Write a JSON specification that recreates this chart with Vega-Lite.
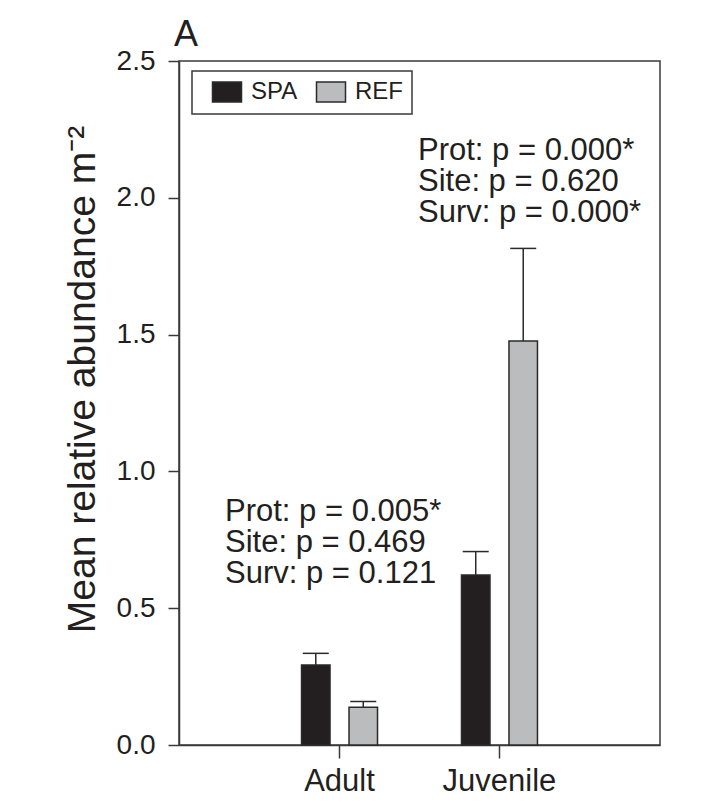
{
  "$schema": "https://vega.github.io/schema/vega-lite/v6.json",
  "width": 481,
  "height": 684,
  "autosize": "none",
  "padding": {"left": 179, "top": 61, "right": 49, "bottom": 62},
  "background": "white",
  "title": {"text": "A", "anchor": "start", "frame": "group", "fontSize": 36, "font": "Liberation Sans", "fontWeight": "normal", "color": "#231f20", "dx": -5, "dy": 35, "offset": 0, "baseline": "alphabetic"},
  "config": {
    "font": "Liberation Sans",
    "view": {"stroke": "#3a3a3a", "strokeWidth": 1.5},
    "axis": {"grid": false, "domainColor": "#3a3a3a", "domainWidth": 1.5, "tickColor": "#3a3a3a", "tickWidth": 1.5, "labelColor": "#231f20", "titleColor": "#231f20", "labelFont": "Liberation Sans", "titleFont": "Liberation Sans", "titleFontWeight": "normal"},
    "legend": {"strokeColor": "#3a3a3a", "strokeWidth": 1.5}
  },
  "datasets": {
    "bars": [
      {"group": "Adult", "site": "SPA", "mean": 0.292, "upper": 0.335},
      {"group": "Adult", "site": "REF", "mean": 0.138, "upper": 0.159},
      {"group": "Juvenile", "site": "SPA", "mean": 0.621, "upper": 0.707},
      {"group": "Juvenile", "site": "REF", "mean": 1.477, "upper": 1.815}
    ],
    "notesAdult": [
      {"group": "Adult", "y": 0.82, "label": "Prot: p = 0.005*\nSite: p = 0.469\nSurv: p = 0.121"}
    ],
    "notesJuv": [
      {"group": "Juvenile", "y": 2.138, "label": "Prot: p = 0.000*\nSite: p = 0.620\nSurv: p = 0.000*"}
    ]
  },
  "layer": [
    {
      "data": {"name": "bars"},
      "mark": {"type": "bar", "stroke": "#2a2a2a", "strokeWidth": 1.5},
      "encoding": {
        "x": {"field": "group", "type": "nominal", "sort": ["Adult", "Juvenile"],
              "scale": {"paddingInner": 0.525, "paddingOuter": 0.766},
              "axis": {"title": null, "labelAngle": 0, "labelFontSize": 31, "tickSize": 13, "labelPadding": 8}},
        "xOffset": {"field": "site", "type": "nominal", "sort": ["SPA", "REF"], "scale": {"paddingInner": 0.4, "paddingOuter": 0}},
        "y": {"field": "mean", "type": "quantitative", "scale": {"domain": [0, 2.5], "nice": false},
              "axis": {"title": "Mean relative abundance m\u207b\u00b2", "titleFontSize": 39, "titlePadding": 14, "titleY": 318, "labelFontSize": 28, "tickSize": 11, "labelPadding": 13, "values": [0, 0.5, 1, 1.5, 2, 2.5], "format": ".1f"}},
        "color": {"field": "site", "type": "nominal", "sort": ["SPA", "REF"],
                  "scale": {"domain": ["SPA", "REF"], "range": ["#231f20", "#bbbcbe"]},
                  "legend": {"title": null, "orient": "none", "legendX": 13, "legendY": 10, "direction": "horizontal", "padding": 9, "symbolType": "M-1.45,-1H1.45V1H-1.45Z", "symbolSize": 400, "symbolStrokeColor": "#2a2a2a", "symbolStrokeWidth": 1.5, "symbolOffset": 14, "labelFontSize": 24, "labelColor": "#231f20", "labelOffset": 12, "columnPadding": 7}}
      }
    },
    {
      "data": {"name": "bars"},
      "mark": {"type": "rule", "color": "#2a2a2a", "strokeWidth": 1.5},
      "encoding": {
        "x": {"field": "group", "type": "nominal", "sort": ["Adult", "Juvenile"]},
        "xOffset": {"field": "site", "type": "nominal", "sort": ["SPA", "REF"]},
        "y": {"field": "mean", "type": "quantitative"},
        "y2": {"field": "upper"}
      }
    },
    {
      "data": {"name": "bars"},
      "mark": {"type": "tick", "color": "#2a2a2a", "thickness": 1.5, "size": 26, "opacity": 1},
      "encoding": {
        "x": {"field": "group", "type": "nominal", "sort": ["Adult", "Juvenile"]},
        "xOffset": {"field": "site", "type": "nominal", "sort": ["SPA", "REF"]},
        "y": {"field": "upper", "type": "quantitative"}
      }
    },
    {
      "data": {"name": "notesAdult"},
      "mark": {"type": "text", "align": "left", "baseline": "alphabetic", "fontSize": 31, "lineHeight": 31, "lineBreak": "\n", "color": "#231f20", "dx": -114.5},
      "encoding": {
        "x": {"field": "group", "type": "nominal", "sort": ["Adult", "Juvenile"]},
        "y": {"field": "y", "type": "quantitative"},
        "text": {"field": "label", "type": "nominal"}
      }
    },
    {
      "data": {"name": "notesJuv"},
      "mark": {"type": "text", "align": "left", "baseline": "alphabetic", "fontSize": 31, "lineHeight": 31, "lineBreak": "\n", "color": "#231f20", "dx": -81.5},
      "encoding": {
        "x": {"field": "group", "type": "nominal", "sort": ["Adult", "Juvenile"]},
        "y": {"field": "y", "type": "quantitative"},
        "text": {"field": "label", "type": "nominal"}
      }
    }
  ]
}
